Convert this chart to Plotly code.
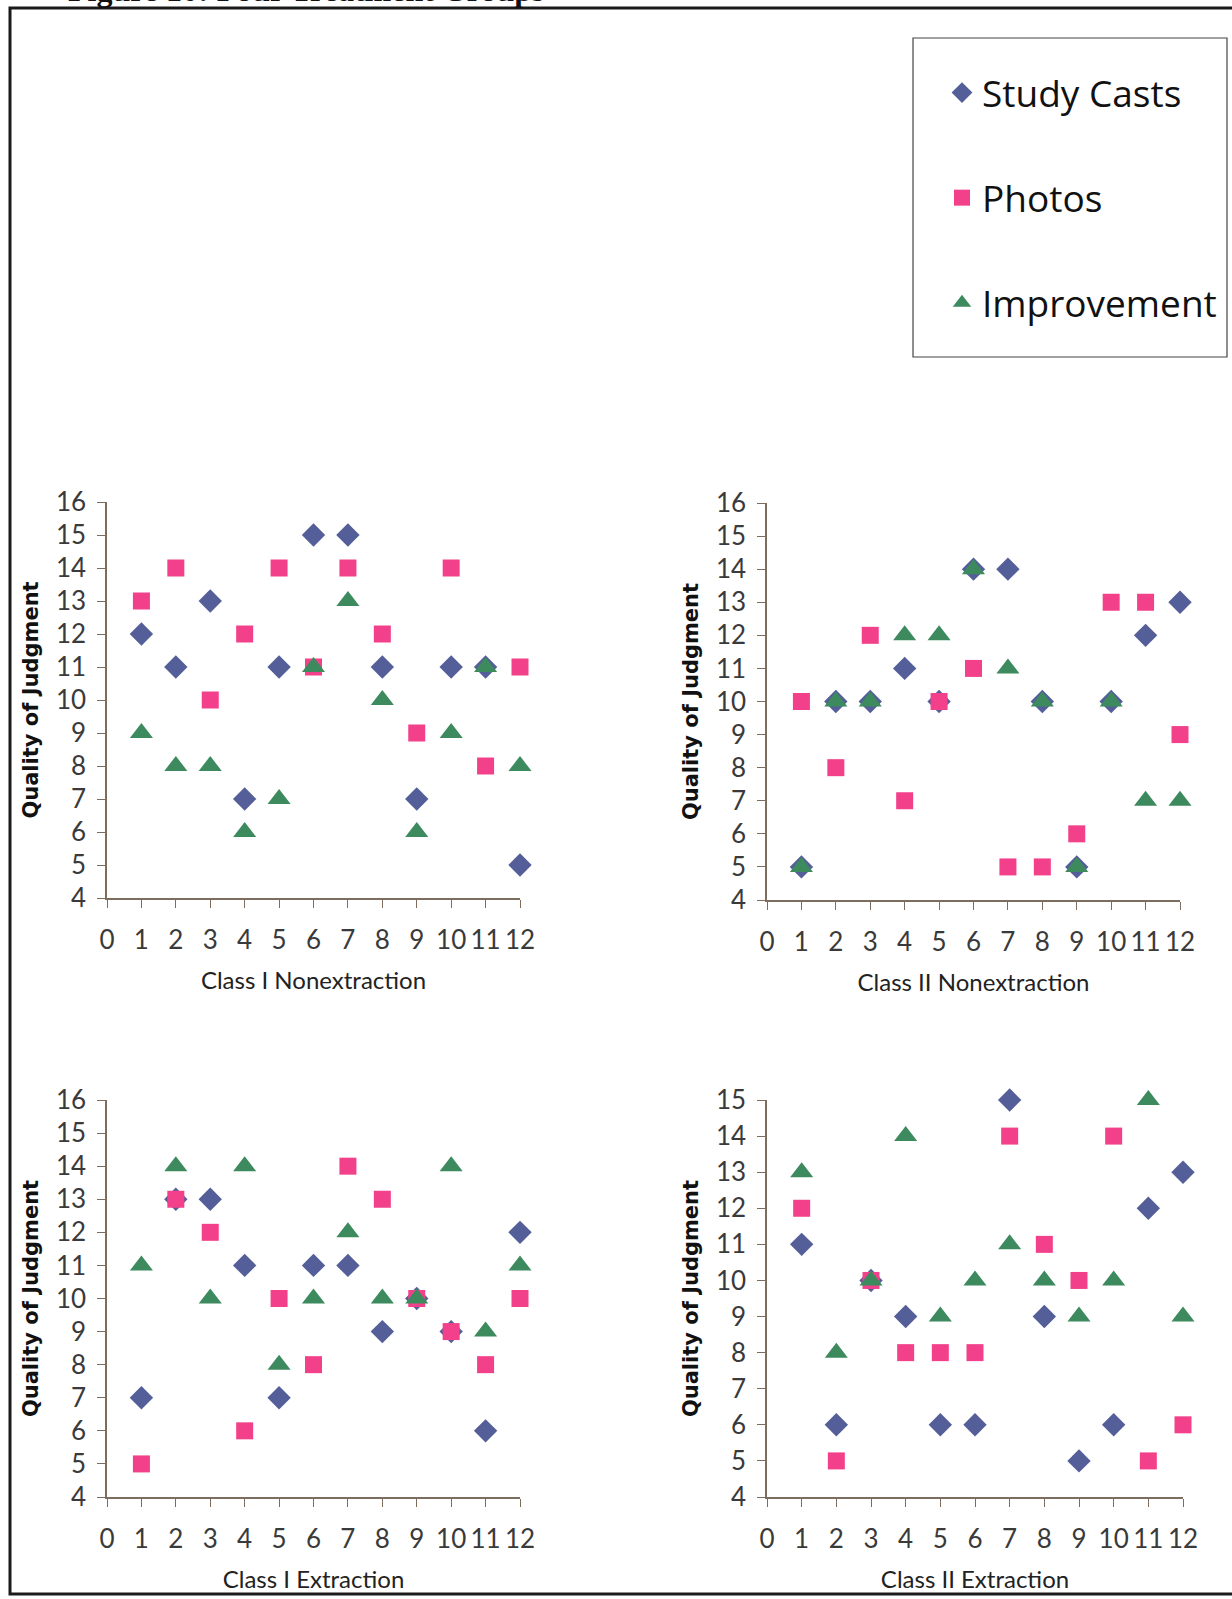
import plotly.graph_objects as go

# ---------------- data ----------------
cases = list(range(1, 13))
x_tick_vals = list(range(0, 13))
x_tick_text = [str(v) for v in x_tick_vals]

series_names = ["Study Casts", "Photos", "Improvement"]

panel_titles = ["Class I Nonextraction", "Class II Nonextraction",
                "Class I Extraction", "Class II Extraction"]

# Class I Nonextraction
c1n_study_casts = [12, 11, 13, 7, 11, 15, 15, 11, 7, 11, 11, 5]
c1n_photos      = [13, 14, 10, 12, 14, 11, 14, 12, 9, 14, 8, 11]
c1n_improvement = [9, 8, 8, 6, 7, 11, 13, 10, 6, 9, 11, 8]

# Class II Nonextraction
c2n_study_casts = [5, 10, 10, 11, 10, 14, 14, 10, 5, 10, 12, 13]
c2n_photos      = [10, 8, 12, 7, 10, 11, 5, 5, 6, 13, 13, 9]
c2n_improvement = [5, 10, 10, 12, 12, 14, 11, 10, 5, 10, 7, 7]

# Class I Extraction
c1e_study_casts = [7, 13, 13, 11, 7, 11, 11, 9, 10, 9, 6, 12]
c1e_photos      = [5, 13, 12, 6, 10, 8, 14, 13, 10, 9, 8, 10]
c1e_improvement = [11, 14, 10, 14, 8, 10, 12, 10, 10, 14, 9, 11]

# Class II Extraction
c2e_study_casts = [11, 6, 10, 9, 6, 6, 15, 9, 5, 6, 12, 13]
c2e_photos      = [12, 5, 10, 8, 8, 8, 14, 11, 10, 14, 5, 6]
c2e_improvement = [13, 8, 10, 14, 9, 10, 11, 10, 9, 10, 15, 9]

y_ranges = [[4, 16], [4, 16], [4, 16], [4, 15]]

panels = [
    (c1n_study_casts, c1n_photos, c1n_improvement),
    (c2n_study_casts, c2n_photos, c2n_improvement),
    (c1e_study_casts, c1e_photos, c1e_improvement),
    (c2e_study_casts, c2e_photos, c2e_improvement),
]

# ---------------- style ----------------
W, H = 1232, 1599
colors = ["#545e98", "#f2418a", "#3d8a5e"]
symbols = ["diamond", "square", "triangle-up"]
sizes = [18, 17, 20]
axis_col = "#7d6d5f"
tick_font = dict(family="Lato, 'Open Sans', sans-serif", size=26, color="#3a3a3a")
title_font = dict(family="Lato, 'Open Sans', sans-serif", size=24, color="#222222")
ytitle_font = dict(family="'DejaVu Sans', sans-serif", size=21, color="#111111",
                   weight="bold")

def px_x(p):
    return p / W

def px_y(p):
    return 1 - p / H

# panel boxes in pixels: (left, right, top(max y), bottom(min y))
boxes = [
    (107, 520, 502, 898),
    (767, 1180, 503, 900),
    (107, 520, 1100, 1497),
    (767, 1183, 1100, 1497),
]

fig = go.Figure()

for i, (vals, box, yr) in enumerate(zip(panels, boxes, y_ranges)):
    n = i + 1
    xa = "x" if n == 1 else f"x{n}"
    ya = "y" if n == 1 else f"y{n}"
    for j, v in enumerate(vals):
        fig.add_trace(go.Scatter(
            x=cases, y=v, mode="markers", name=series_names[j],
            xaxis=xa, yaxis=ya, cliponaxis=False,
            legendgroup=series_names[j], showlegend=(n == 1),
            marker=dict(symbol=symbols[j], size=sizes[j], color=colors[j],
                        line=dict(width=0)),
        ))
    left, right, top, bottom = box
    common = dict(showgrid=False, zeroline=False, showline=True,
                  linecolor=axis_col, linewidth=1.5, tickcolor=axis_col,
                  tickwidth=1.2, ticklen=8, ticks="outside", tickfont=tick_font,
                  tickangle=0, automargin=False)
    ylo, yhi = yr
    fig.update_layout(**{
        ("xaxis" if n == 1 else f"xaxis{n}"): dict(
            domain=[px_x(left), px_x(right)], anchor=ya, range=[0, 12],
            tickmode="array", tickvals=x_tick_vals, ticktext=x_tick_text,
            ticklabelstandoff=10,
            title=dict(text=panel_titles[i], font=title_font, standoff=18),
            **common),
        ("yaxis" if n == 1 else f"yaxis{n}"): dict(
            domain=[px_y(bottom), px_y(top)], anchor=xa, range=[ylo, yhi],
            tickmode="array", tickvals=list(range(ylo, yhi + 1)),
            ticklabelstandoff=6,
            title=dict(text="Quality of Judgment", font=ytitle_font, standoff=12),
            **common),
    })
    # overlay axes to make ticks cross the axis line
    ox, oy = n + 4, n + 4
    fig.update_layout(**{
        f"xaxis{ox}": dict(overlaying=xa, anchor=ya, range=[0, 12],
                           tickmode="array", tickvals=cases, ticks="inside",
                           ticklen=8, tickcolor=axis_col, tickwidth=1.2,
                           showticklabels=False, showline=False,
                           showgrid=False, zeroline=False, automargin=False),
        f"yaxis{oy}": dict(overlaying=ya, anchor=xa, range=[ylo, yhi],
                           tickmode="array", tickvals=list(range(ylo + 1, yhi + 1)),
                           ticks="inside", ticklen=8, tickcolor=axis_col,
                           tickwidth=1.2, showticklabels=False, showline=False,
                           showgrid=False, zeroline=False, automargin=False),
    })

# outer frame and legend box
fig.add_shape(type="rect", xref="paper", yref="paper",
              x0=px_x(10), x1=px_x(1260), y0=px_y(1594), y1=px_y(8),
              line=dict(color="#1a1a1a", width=3), fillcolor="rgba(0,0,0,0)")
fig.add_shape(type="rect", xref="paper", yref="paper",
              x0=px_x(913), x1=px_x(1227), y0=px_y(357), y1=px_y(38),
              line=dict(color="#444444", width=1.2), fillcolor="rgba(0,0,0,0)")

# partially cut-off figure title at the top (as in the scanned original)
fig.add_annotation(text="<b>Figure 10: Four Treatment Groups</b>",
                   xref="paper", yref="paper", x=px_x(66), y=px_y(10),
                   xanchor="left", yanchor="bottom", showarrow=False,
                   font=dict(family="'Liberation Serif', serif", size=32,
                             color="#111111"))

fig.update_layout(
    width=W, height=H,
    margin=dict(l=0, r=0, t=0, b=0, pad=0, autoexpand=False),
    paper_bgcolor="white", plot_bgcolor="white",
    legend=dict(x=px_x(942), y=px_y(62), xanchor="left", yanchor="top",
                bgcolor="rgba(0,0,0,0)", borderwidth=0,
                font=dict(family="'Open Sans', Lato, sans-serif", size=37,
                          color="#111111"),
                tracegroupgap=54, itemsizing="trace"),
)

fig.write_html("out.html",
               config={"displayModeBar": False},
               post_script="document.body.style.margin='0';"
                           "document.body.style.overflow='hidden';")
